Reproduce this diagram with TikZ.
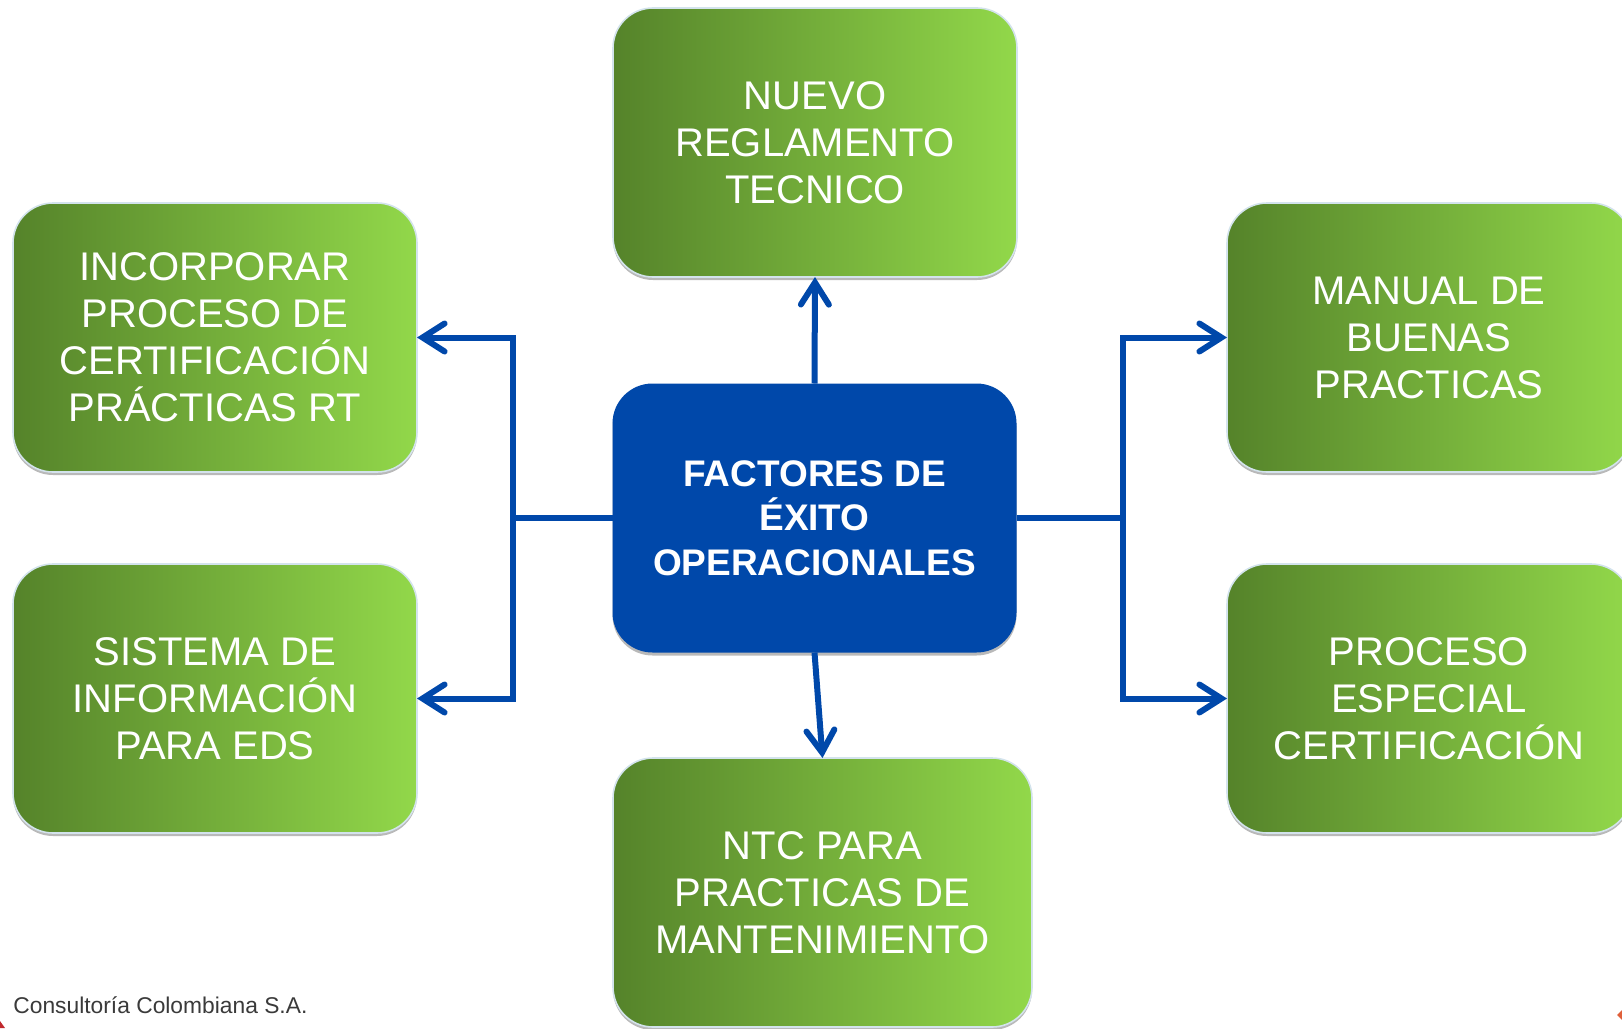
\documentclass[tikz,border=0pt]{standalone}
\usepackage{fontspec}
\setmainfont{Liberation Sans}
\usetikzlibrary{
  calc,
  arrows.meta,
  positioning, shadows,
}
\definecolor{hubblue}{HTML}{0048AA}
\definecolor{leafdark}{HTML}{55832A}
\definecolor{leaflight}{HTML}{92D84A}
\definecolor{leafedge}{HTML}{D3E3EC}
\definecolor{footgray}{HTML}{3A3A3A}
\definecolor{accent}{HTML}{E0603A}
\definecolor{accentred}{HTML}{C0282D}
\tikzset{
  box/.style = {rounded corners=20pt, inner sep=0pt, outer sep=0pt,
      minimum width=#1, minimum height=134.5pt, align=center,
      drop shadow={shadow xshift=0pt, shadow yshift=-1.5pt,
        opacity=.55, fill=gray}},
  box/.default = 202pt, % width of the box
  leaf/.style = {box=#1, left color=leafdark, right color=leaflight,
      draw=leafedge, line width=.8pt, text=white,
      font=\fontsize{20}{23.5}\selectfont},
  leaf/.default = 202pt,
  hub/.style = {box, fill=hubblue, text=white,
      font=\fontsize{18.5}{22.2}\selectfont\bfseries},
  wire/.style = {draw=hubblue, line width=3pt, line join=miter},
  link/.style = {wire,
      -{Straight Barb[length=11pt, width=14pt, line cap=round]}},
}

\begin{document}
\begin{tikzpicture}[x=0.5pt, y=-0.5pt]
  \useasboundingbox (0,0) rectangle (1622,1028);

  \node[hub] (hub) at (814.5,518) {FACTORES DE\\ÉXITO\\OPERACIONALES};

  \node[leaf] (nuevo) at (815,142.5) {NUEVO\\REGLAMENTO\\TECNICO};
  \node[leaf] (incorp) at (215,337.5)
    {INCORPORAR\\PROCESO DE\\CERTIFICACIÓN\\PRÁCTICAS RT};
  \node[leaf] (sistema) at (215,698.5) {SISTEMA DE\\INFORMACIÓN\\PARA EDS};
  \node[leaf] (manual) at (1429,337.5) {MANUAL DE\\BUENAS\\PRACTICAS};
  \node[leaf] (proceso) at (1429,698.5) {PROCESO\\ESPECIAL\\CERTIFICACIÓN};
  \node[leaf=209.5pt] (ntc) at (822.5,892.5)
    {NTC PARA\\PRACTICAS DE\\MANTENIMIENTO};

  \coordinate (ljoin) at (513,518);
  \coordinate (rjoin) at (1123,518);

  \draw[wire] (hub.west) -- (ljoin);
  \draw[wire] (hub.east) -- (rjoin);
  \draw[link] (ljoin) |- (incorp.east);
  \draw[link] (ljoin) |- (sistema.east);
  \draw[link] (rjoin) |- (manual.west);
  \draw[link] (rjoin) |- (proceso.west);
  \draw[link] (hub.north) -- (nuevo.south);
  \draw[link] (hub.south) -- (ntc.north);

  \node[anchor=base west, inner sep=0pt, text=footgray,
    font=\fontsize{11.4}{13}\selectfont] (firma) at (13,1013)
    {Consultoría Colombiana S.A.};

  % bits of the slide border
  \fill[accentred] (0,1021) -- (5,1028) -- (0,1028) -- cycle;
  \fill[accent] (1617,1015) -- (1625,1007) -- (1633,1015) -- (1625,1023) -- cycle;
\end{tikzpicture}
\end{document}
